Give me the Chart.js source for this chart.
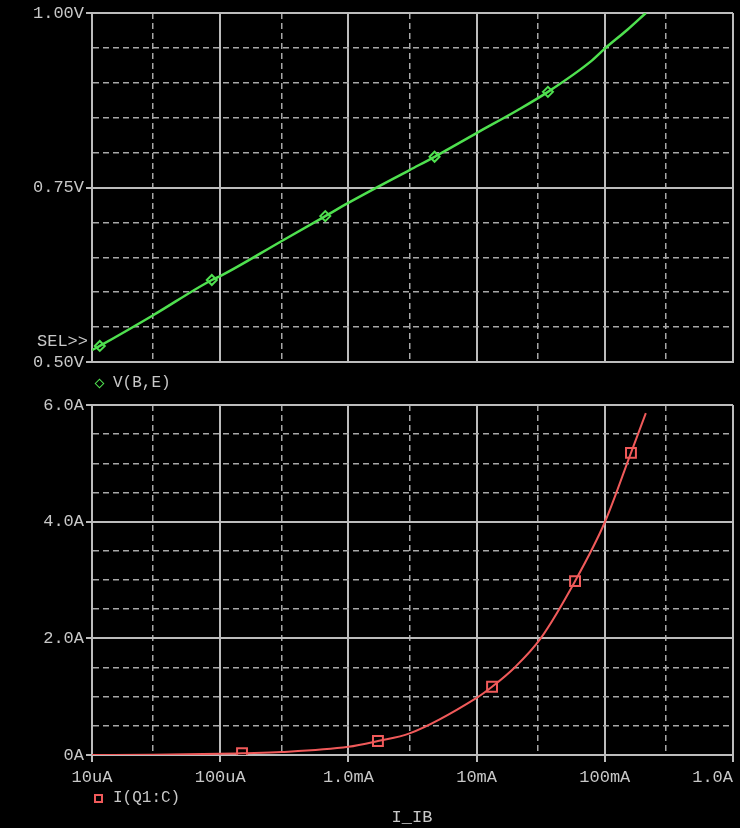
<!DOCTYPE html>
<html>
<head>
<meta charset="utf-8">
<title>V(B,E) and I(Q1:C) vs I_IB</title>
<script src="https://cdn.jsdelivr.net/npm/chart.js@4/dist/chart.umd.min.js"></script>
<style>
  html, body { margin: 0; padding: 0; background: #000; }
  #wrap { position: relative; width: 740px; height: 828px; background: #000; overflow: hidden;
          font-family: 'Liberation Mono', 'DejaVu Sans Mono', monospace; color: #c8c8c8; }
  .plot { position: absolute; left: 0; width: 740px; }
  #topBox { top: 0; height: 372px; }
  #botBox { top: 395px; height: 433px; }
  .txt { position: absolute; font-size: 16px; line-height: 18px; white-space: pre; transform: translateY(-50%); }
  #sel { right: 652px; top: 342px; font-size: 17px; }
  #leg1 { left: 113px; top: 383px; }
  #leg2 { left: 113px; top: 798px; }
  #xTitle { left: 412px; top: 818px; transform: translate(-50%, -50%); font-size: 17px; }
  .mkDiamond { position: absolute; left: 96px; top: 380px; width: 5px; height: 5px;
               border: 1.5px solid #4fe04f; transform: rotate(45deg); }
  .mkSquare { position: absolute; left: 94px; top: 794px; width: 5px; height: 5px;
              border: 2px solid #f05a5a; }
</style>
</head>
<body>
<div id="wrap">
  <div class="plot" id="topBox"><canvas id="vbeChart"></canvas></div>
  <div class="plot" id="botBox"><canvas id="icChart"></canvas></div>
  <div class="txt" id="sel">SEL&gt;&gt;</div>
  <span class="mkDiamond"></span>
  <div class="txt" id="leg1">V(B,E)</div>
  <span class="mkSquare"></span>
  <div class="txt" id="leg2">I(Q1:C)</div>
  <div class="txt" id="xTitle">I_IB</div>
</div>
<script>
// x axis: base current I_IB (A), log sweep
const xTickValues = [1e-5, 1e-4, 1e-3, 1e-2, 1e-1, 1];
const xTickLabels = ['10uA', '100uA', '1.0mA', '10mA', '100mA', '1.0A'];
const xMinorValues = [3e-5, 3e-4, 3e-3, 3e-2, 3e-1];

// top plot: V(B,E) in volts
const vTickValues = [0.50, 0.75, 1.00];
const vTickLabels = ['0.50V', '0.75V', '1.00V'];
const vMinorValues = [0.55, 0.60, 0.65, 0.70, 0.80, 0.85, 0.90, 0.95];

const vbeX = [1e-5, 1.15e-5, 3e-5, 8.6e-5, 1e-4, 3e-4, 6.6e-4, 1e-3, 3e-3, 4.7e-3, 1e-2, 2.1e-2, 3.6e-2, 7.7e-2, 1e-1, 1.5e-1, 2.09e-1];
const vbeY = [0.517, 0.523, 0.567, 0.6175, 0.623, 0.673, 0.709, 0.728, 0.775, 0.794, 0.828, 0.861, 0.887, 0.930, 0.949, 0.976, 1.000];
const vbeMarkX = [1.15e-5, 8.6e-5, 6.6e-4, 4.7e-3, 3.6e-2];
const vbeMarkY = [0.523, 0.6175, 0.709, 0.794, 0.887];

// bottom plot: I(Q1:C) in amps
const iTickValues = [0, 2, 4, 6];
const iTickLabels = ['0A', '2.0A', '4.0A', '6.0A'];
const iMinorValues = [0.5, 1, 1.5, 2.5, 3, 3.5, 4.5, 5, 5.5];

const icX = [1e-5, 3e-5, 1e-4, 1.48e-4, 3e-4, 1e-3, 1.7e-3, 3e-3, 1e-2, 1.32e-2, 2e-2, 3.16e-2, 5.86e-2, 1e-1, 1.6e-1, 2.09e-1];
const icY = [0.0, 0.005, 0.02, 0.03, 0.05, 0.14, 0.24, 0.37, 0.98, 1.17, 1.51, 2.0, 2.98, 3.99, 5.18, 5.86];
const icMarkX = [1.48e-4, 1.7e-3, 1.32e-2, 5.86e-2, 1.6e-1];
const icMarkY = [0.03, 0.24, 1.17, 2.98, 5.18];

const GREEN = '#4fe04f';
const RED = '#f05a5a';
const GRID_MAJOR = '#bcbcbc';
const GRID_MINOR = '#a8a8a8';
const TEXT = '#c8c8c8';
const FONT = { family: "'Liberation Mono', 'DejaVu Sans Mono', monospace", size: 17 };

Chart.defaults.font.family = FONT.family;

function points(xs, ys) {
  return xs.map((x, i) => ({ x, y: ys[i] }));
}

function tickList(major, minor) {
  return major.map(v => ({ value: v, major: true }))
    .concat(minor.map(v => ({ value: v, major: false })))
    .sort((a, b) => a.value - b.value);
}

const gridStyle = {
  color: ctx => (ctx.tick && !ctx.tick.major) ? GRID_MINOR : GRID_MAJOR,
  lineWidth: ctx => (ctx.tick && !ctx.tick.major) ? 1.5 : 2,
  tickColor: ctx => (ctx.tick && ctx.tick.major) ? GRID_MAJOR : 'rgba(0,0,0,0)',
  tickWidth: 2
};
const borderStyle = {
  color: GRID_MAJOR,
  width: 2,
  dash: ctx => (ctx.tick && !ctx.tick.major) ? [6, 4] : []
};

function xScale(showLabels) {
  return {
    type: 'logarithmic',
    min: 1e-5,
    max: 1,
    afterBuildTicks: scale => { scale.ticks = tickList(xTickValues, xMinorValues); },
    afterFit: scale => {
      scale.height = showLabels ? 73 : 0;
      scale.paddingLeft = 0;
      scale.paddingRight = 0;
    },
    grid: Object.assign({}, gridStyle, { drawTicks: showLabels, tickLength: 7 }),
    border: borderStyle,
    ticks: {
      display: showLabels,
      autoSkip: false,
      maxRotation: 0,
      padding: 5,
      color: TEXT,
      font: FONT,
      callback: (value) => {
        const i = xTickValues.indexOf(value);
        if (i < 0) return '';
        // last label sits inside the window, as in the original plot
        return i === xTickValues.length - 1 ? xTickLabels[i] + '    ' : xTickLabels[i];
      }
    }
  };
}

function yScale(min, max, major, minor, labels) {
  return {
    type: 'linear',
    min,
    max,
    afterBuildTicks: scale => { scale.ticks = tickList(major, minor); },
    afterFit: scale => {
      scale.width = 92;
      scale.paddingTop = 0;
      scale.paddingBottom = 0;
    },
    grid: Object.assign({}, gridStyle, { drawTicks: true, tickLength: 6 }),
    border: borderStyle,
    ticks: {
      autoSkip: false,
      padding: 2,
      color: TEXT,
      font: FONT,
      callback: (value) => {
        const i = major.indexOf(value);
        return i < 0 ? '' : labels[i];
      }
    }
  };
}

function baseOptions(padding, showX, yOpts) {
  return {
    responsive: true,
    maintainAspectRatio: false,
    animation: false,
    layout: { padding, autoPadding: false },
    plugins: { legend: { display: false }, tooltip: { enabled: false } },
    scales: { x: xScale(showX), y: yOpts }
  };
}

new Chart(document.querySelector('#vbeChart'), {
  type: 'scatter',
  data: {
    datasets: [
      {
        label: 'V(B,E)',
        data: points(vbeX, vbeY),
        showLine: true,
        borderColor: GREEN,
        borderWidth: 2.5,
        pointRadius: 0,
        cubicInterpolationMode: 'monotone'
      },
      {
        label: 'V(B,E) markers',
        data: points(vbeMarkX, vbeMarkY),
        showLine: false,
        pointStyle: 'rectRot',
        pointRadius: 5,
        pointBorderWidth: 2,
        pointBorderColor: GREEN,
        pointBackgroundColor: '#000'
      }
    ]
  },
  options: baseOptions({ top: 13, right: 7, bottom: 10, left: 0 }, false,
    yScale(0.5, 1.0, vTickValues, vMinorValues, vTickLabels))
});

new Chart(document.querySelector('#icChart'), {
  type: 'scatter',
  data: {
    datasets: [
      {
        label: 'I(Q1:C)',
        data: points(icX, icY),
        showLine: true,
        borderColor: RED,
        borderWidth: 2,
        pointRadius: 0,
        cubicInterpolationMode: 'monotone'
      },
      {
        label: 'I(Q1:C) markers',
        data: points(icMarkX, icMarkY),
        showLine: false,
        pointStyle: 'rect',
        pointRadius: 7,
        pointBorderWidth: 2,
        pointBorderColor: RED,
        pointBackgroundColor: '#000'
      }
    ]
  },
  options: baseOptions({ top: 10, right: 7, bottom: 0, left: 0 }, true,
    yScale(0, 6, iTickValues, iMinorValues, iTickLabels))
});
</script>
</body>
</html>
